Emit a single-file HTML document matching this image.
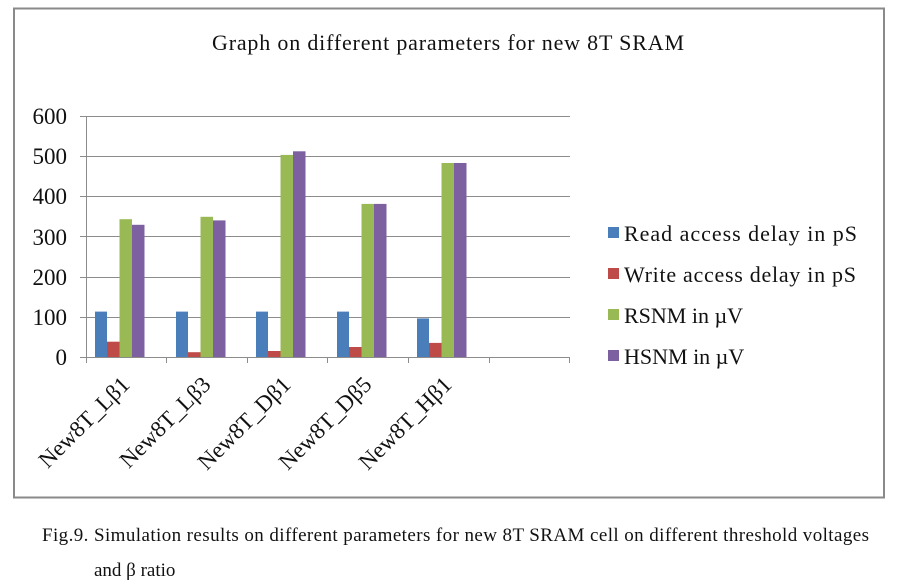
<!DOCTYPE html>
<html><head><meta charset="utf-8"><style>
html,body{margin:0;padding:0;background:#fff;}
svg{display:block;font-family:"Liberation Serif",serif;}
</style></head><body>
<svg width="902" height="584" viewBox="0 0 902 584" xmlns="http://www.w3.org/2000/svg">
<rect x="0" y="0" width="902" height="584" fill="#fff"/>
<rect x="14" y="8.5" width="870" height="489" fill="#fff" stroke="#8a8a8a" stroke-width="2"/>
<text x="448" y="50" font-size="22" text-anchor="middle" fill="#111" textLength="472">Graph on different parameters for new 8T SRAM</text>
<g stroke="#8c8c8c" stroke-width="1">
<line x1="80" y1="116.5" x2="570" y2="116.5"/>
<line x1="80" y1="156.5" x2="570" y2="156.5"/>
<line x1="80" y1="196.5" x2="570" y2="196.5"/>
<line x1="80" y1="236.5" x2="570" y2="236.5"/>
<line x1="80" y1="277.5" x2="570" y2="277.5"/>
<line x1="80" y1="317.5" x2="570" y2="317.5"/>
<line x1="80" y1="357.5" x2="570" y2="357.5"/>
<line x1="86.5" y1="116" x2="86.5" y2="363"/>
<line x1="166.5" y1="357" x2="166.5" y2="363"/>
<line x1="247.5" y1="357" x2="247.5" y2="363"/>
<line x1="327.5" y1="357" x2="327.5" y2="363"/>
<line x1="408.5" y1="357" x2="408.5" y2="363"/>
<line x1="489.5" y1="357" x2="489.5" y2="363"/>
<line x1="569.5" y1="357" x2="569.5" y2="363"/>
</g>
<g font-size="23" text-anchor="end" fill="#111">
<text x="67" y="124">600</text>
<text x="67" y="164">500</text>
<text x="67" y="204">400</text>
<text x="67" y="245">300</text>
<text x="67" y="285">200</text>
<text x="67" y="325">100</text>
<text x="67" y="365">0</text>
</g>
<g>
<rect x="95" y="311.6" width="12" height="45.4" fill="#4a7ebb"/>
<rect x="107" y="341.7" width="12.5" height="15.3" fill="#be4b48"/>
<rect x="119.5" y="219.2" width="12.5" height="137.8" fill="#98b954"/>
<rect x="132" y="224.8" width="12.5" height="132.2" fill="#7d60a0"/>

<rect x="176" y="311.6" width="12" height="45.4" fill="#4a7ebb"/>
<rect x="188" y="352.2" width="12.5" height="4.8" fill="#be4b48"/>
<rect x="200.5" y="216.8" width="12.5" height="140.2" fill="#98b954"/>
<rect x="213" y="220.4" width="12.5" height="136.6" fill="#7d60a0"/>

<rect x="256" y="311.6" width="12" height="45.4" fill="#4a7ebb"/>
<rect x="268" y="351" width="12.5" height="6" fill="#be4b48"/>
<rect x="280.5" y="154.9" width="12.5" height="202.1" fill="#98b954"/>
<rect x="293" y="151.3" width="12.5" height="205.7" fill="#7d60a0"/>

<rect x="337" y="311.6" width="12" height="45.4" fill="#4a7ebb"/>
<rect x="349" y="347" width="12.5" height="10" fill="#be4b48"/>
<rect x="361.5" y="203.9" width="12.5" height="153.1" fill="#98b954"/>
<rect x="374" y="203.9" width="12.5" height="153.1" fill="#7d60a0"/>

<rect x="417" y="318.4" width="12" height="38.6" fill="#4a7ebb"/>
<rect x="429" y="342.9" width="12.5" height="14.1" fill="#be4b48"/>
<rect x="441.5" y="163" width="12.5" height="194" fill="#98b954"/>
<rect x="454" y="163" width="12.5" height="194" fill="#7d60a0"/>
</g>
<g font-size="23" fill="#111" text-anchor="end">
<text transform="translate(131,386) rotate(-45)">New8T_Lβ1</text>
<text transform="translate(212,386) rotate(-45)">New8T_Lβ3</text>
<text transform="translate(292,386) rotate(-45)">New8T_Dβ1</text>
<text transform="translate(373,386) rotate(-45)">New8T_Dβ5</text>
<text transform="translate(453,386) rotate(-45)">New8T_Hβ1</text>
</g>
<g font-size="22" fill="#111">
<rect x="608" y="227" width="11" height="11" fill="#4a7ebb"/>
<text x="624" y="241" textLength="233">Read access delay in  pS</text>
<rect x="608" y="268" width="11" height="11" fill="#be4b48"/>
<text x="624" y="282" textLength="232">Write access delay in pS</text>
<rect x="608" y="309" width="11" height="11" fill="#98b954"/>
<text x="624" y="323">RSNM in µV</text>
<rect x="608" y="350" width="11" height="11" fill="#7d60a0"/>
<text x="624" y="364">HSNM in µV</text>
</g>
<g font-size="19" fill="#111">
<text x="42" y="541" textLength="827">Fig.9. Simulation results on different parameters for new 8T SRAM cell on different threshold voltages</text>
<text x="94" y="576">and β ratio</text>
</g>
</svg>
</body></html>
